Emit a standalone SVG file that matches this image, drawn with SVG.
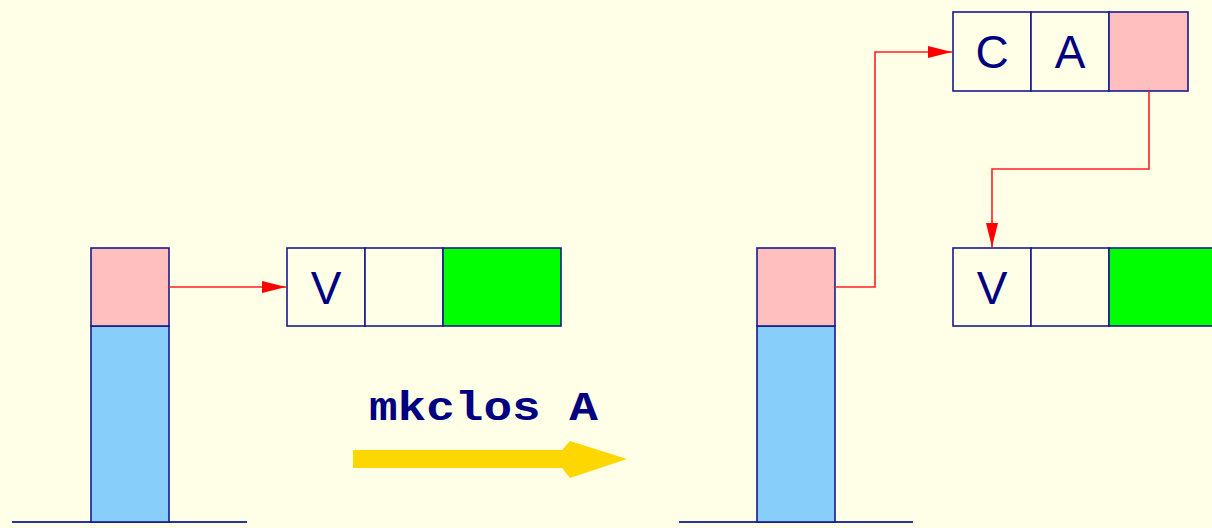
<svg xmlns="http://www.w3.org/2000/svg" width="1212" height="528" viewBox="0 0 1212 528">
<style>
.cell{stroke:#1a1a8c;stroke-width:1.6}
.e{fill:#ffffe8}.p{fill:#ffbfbf}.b{fill:#87cefa}.g{fill:#00ff00}
.lbl{font-family:"Liberation Sans",Arial,sans-serif;font-size:46px;fill:#000080;text-anchor:middle}
.base{stroke:#2a34a0;stroke-width:2}
.ptr{fill:none;stroke:#ff2020;stroke-width:1.6}
</style>
<defs>
<marker id="ah" markerWidth="24" markerHeight="12" refX="24" refY="6" orient="auto" markerUnits="userSpaceOnUse">
<path d="M0,0 L24,6 L0,12 z" fill="#ff0000"/>
</marker>
</defs>
<rect width="1212" height="528" fill="#ffffe8"/>
<g id="stack-left">
<line class="base" x1="12" y1="522" x2="247" y2="522"/>
<rect class="cell b" x="91" y="326" width="78" height="196"/>
<rect class="cell p" x="91" y="248" width="78" height="78"/>
</g>
<g id="record-left">
<rect class="cell e" x="287" y="248" width="78" height="78"/>
<rect class="cell e" x="365" y="248" width="78" height="78"/>
<rect class="cell g" x="443" y="248" width="118" height="78"/>
<text class="lbl" x="326" y="304">V</text>
</g>
<g id="transition">
<text x="369" y="420" font-family="'Liberation Mono','Courier New',monospace" font-weight="bold" font-size="41" fill="#000080" textLength="229" lengthAdjust="spacingAndGlyphs">mkclos A</text>
<polygon points="353,450 562,450 570,441 627,459 570,478 562,468 353,468" fill="#ffd700"/>
</g>
<g id="stack-right">
<line class="base" x1="679" y1="522" x2="913" y2="522"/>
<rect class="cell b" x="757" y="326" width="78" height="196"/>
<rect class="cell p" x="757" y="248" width="78" height="78"/>
</g>
<g id="closure">
<rect class="cell e" x="953" y="12" width="78" height="79"/>
<rect class="cell e" x="1031" y="12" width="78" height="79"/>
<rect class="cell p" x="1109" y="12" width="79" height="79"/>
<text class="lbl" x="992" y="68">C</text>
<text class="lbl" x="1070" y="68">A</text>
</g>
<g id="record-right">
<rect class="cell e" x="953" y="248" width="78" height="78"/>
<rect class="cell e" x="1031" y="248" width="78" height="78"/>
<rect class="cell g" x="1109" y="248" width="118" height="78"/>
<text class="lbl" x="992" y="304">V</text>
</g>
<g id="connectors">
<path class="ptr" d="M169,287 H286" marker-end="url(#ah)"/>
<path class="ptr" d="M835,287 H875 V52 H952" marker-end="url(#ah)"/>
<path class="ptr" d="M1149,91 V169 H992 V247" marker-end="url(#ah)"/>
</g>
</svg>
